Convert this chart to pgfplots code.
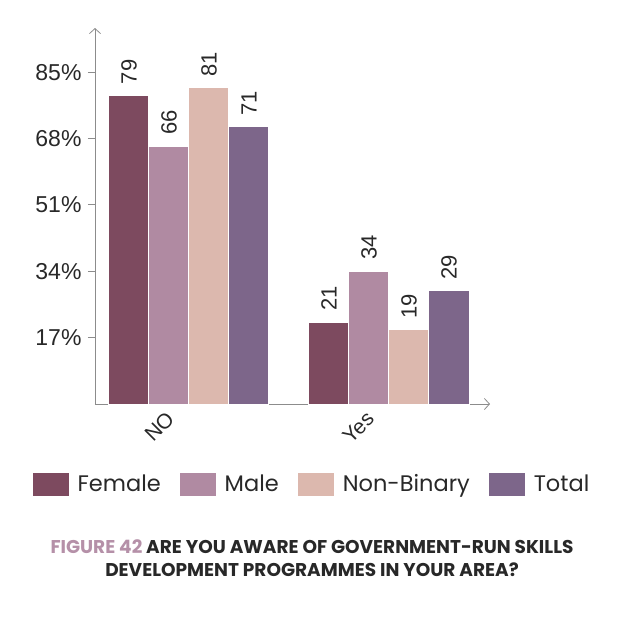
\documentclass[border=0pt]{standalone}
\usepackage{pgfplots}
\pgfplotsset{compat=1.18}
\usetikzlibrary{arrows.meta}
\usepackage{fontspec}
\setmainfont{Liberation Sans}
\newfontfamily\pop{Poppins}
\definecolor{cF}{RGB}{125,74,95}
\definecolor{cM}{RGB}{176,138,162}
\definecolor{cN}{RGB}{220,184,174}
\definecolor{cT}{RGB}{125,102,138}
\definecolor{cFig}{RGB}{181,144,168}
\definecolor{txt}{RGB}{40,40,40}
\definecolor{axc}{RGB}{140,140,140}
\begin{document}
\begin{tikzpicture}
\useasboundingbox (-95pt,-221pt) rectangle (538pt,404pt);
\begin{axis}[
 scale only axis, width=395pt, height=376pt,
 xmin=-0.47, xmax=1.505, ymin=0, ymax=96.3,
 axis lines=left,
 axis line style={draw=axc, line width=0.8pt, -{Straight Barb[length=5pt,width=11pt]}},
 ybar=0pt, bar width=40pt,
 xtick={0,1}, xticklabels={NO,Yes},
 ytick={17,34,51,68,85}, yticklabel={\pgfmathprintnumber{\tick}\%},
 /pgf/number format/assume math mode=true,
 ytick style={draw=axc, line width=0.8pt},
 xtick style={draw=none},
 major tick length=7pt, tick align=outside,
 yticklabel style={font=\fontsize{23}{26}\selectfont, text=txt, xshift=-3pt},
 xticklabel style={font=\fontsize{21}{24}\selectfont, text=txt, rotate=45, anchor=north east, xshift=-12.7pt, yshift=21pt},
 nodes near coords,
 every node near coord/.append style={rotate=90, anchor=west, font=\fontsize{22}{24}\selectfont, text=txt, inner xsep=11pt},
 legend style={at={(0.548,-0.213)}, anchor=center, draw=none, fill=none, legend columns=4,
   font=\pop\fontsize{22.5}{26}\selectfont, text=txt,
   /tikz/every odd column/.append style={column sep=6pt},
   /tikz/every even column/.append style={column sep=16pt}},
 legend image code/.code={\fill[#1] (0pt,-12pt) rectangle (37pt,12pt);},
 clip=false,
]
\addplot[fill=cF, draw=white, line width=1pt] coordinates {(0,79) (1,21)};
\addplot[fill=cM, draw=white, line width=1pt] coordinates {(0,66) (1,34)};
\addplot[fill=cN, draw=white, line width=1pt] coordinates {(0,81) (1,19)};
\addplot[fill=cT, draw=white, line width=1pt] coordinates {(0,71) (1,29)};
\legend{Female, Male, Non-Binary, Total}
\end{axis}
\node[align=center, font=\pop\bfseries\fontsize{18.5}{23}\selectfont, text=txt] at (217pt,-154pt)
 {\textcolor{cFig}{FIGURE 42} ARE YOU AWARE OF GOVERNMENT-RUN SKILLS\\DEVELOPMENT PROGRAMMES IN YOUR AREA?};
\end{tikzpicture}
\end{document}
